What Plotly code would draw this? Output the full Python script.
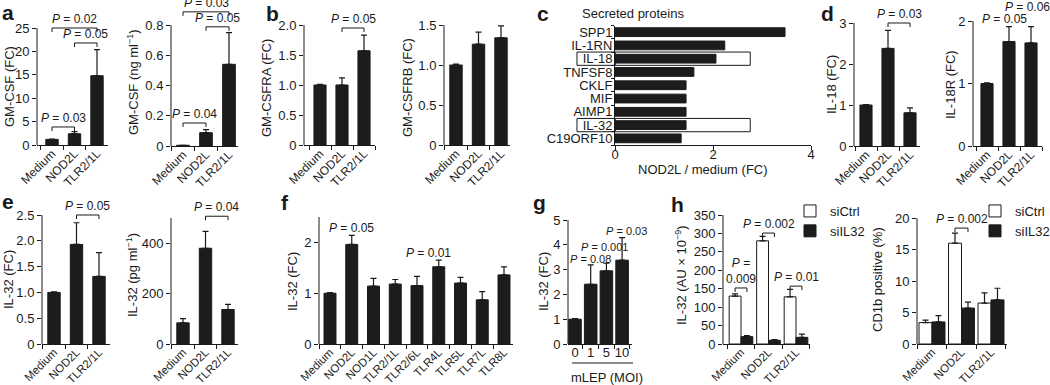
import plotly.graph_objects as go

W, H = 1050, 385
FONT = "Liberation Sans, Arial, Helvetica, sans-serif"
INK = "#1a1a1a"
BAR = "#1c1c1c"

# ---------------- data ----------------
cats3 = ["Medium", "NOD2L", "TLR2/1L"]

a1_vals = [1.2, 2.4, 14.8]
a1_err = [0.05, 0.45, 5.6]
a2_vals = [0.005, 0.088, 0.54]
a2_err = [0.0, 0.02, 0.21]

b1_vals = [1.0, 1.0, 1.57]
b1_err = [0.01, 0.12, 0.26]
b2_vals = [1.0, 1.26, 1.34]
b2_err = [0.01, 0.15, 0.15]

c_cats = ["SPP1", "IL-1RN", "IL-18", "TNFSF8", "CKLF", "MIF", "AIMP1", "IL-32", "C19ORF10"]
c_vals = [3.47, 2.24, 2.06, 1.61, 1.45, 1.45, 1.45, 1.45, 1.35]
c_boxed = ["IL-18", "IL-32"]
c_box_value = 2.76

d1_vals = [1.0, 2.38, 0.81]
d1_err = [0.01, 0.44, 0.12]
d2_vals = [1.0, 1.67, 1.65]
d2_err = [0.01, 0.24, 0.26]

e1_vals = [1.0, 1.93, 1.31]
e1_err = [0.01, 0.42, 0.46]
e2_vals = [84, 380, 137]
e2_err = [17, 67, 20]

f_cats = ["Medium", "NOD2L", "NOD1L", "TLR2/1L", "TLR2/6L", "TLR4L", "TLR5L", "TLR7L", "TLR8L"]
f_vals = [1.0, 1.96, 1.14, 1.18, 1.15, 1.52, 1.20, 0.87, 1.36]
f_err = [0.01, 0.18, 0.15, 0.09, 0.18, 0.13, 0.11, 0.16, 0.16]

g_cats = ["0", "1", "5", "10"]
g_vals = [1.0, 2.41, 2.95, 3.38]
g_err = [0.02, 0.78, 0.31, 0.91]

h_series = ["siCtrl", "siIL32"]
h1_ctrl = [130, 280, 128]
h1_ctrl_err = [6, 12, 20]
h1_si = [20, 10, 18]
h1_si_err = [3, 2, 9]
h2_ctrl = [3.4, 16.0, 6.5]
h2_ctrl_err = [0.4, 1.6, 1.6]
h2_si = [3.5, 5.7, 7.0]
h2_si_err = [1.0, 0.95, 1.85]

# ---------------- helpers ----------------
layout = dict(
    width=W, height=H, autosize=False,
    margin=dict(l=0, r=0, t=0, b=0, autoexpand=False),
    paper_bgcolor="white", plot_bgcolor="rgba(0,0,0,0)",
    barmode="overlay",
    font=dict(family=FONT, size=12, color=INK),
    showlegend=True,
)
shapes, annots, traces = [], [], []


def names(n):
    s = "" if n == 1 else str(n)
    return "xaxis" + s, "yaxis" + s, "x" + s, "y" + s


def bar_panel(n, cats, geo, T, R, ytick, yticktext=None, xangle=-45, xfont=12):
    x0, x1, c0, s, y0, yt = geo
    xa, ya, xr, yr = names(n)
    scale = (y0 - yt) / T
    top = y0 - R * scale
    layout[xa] = dict(
        domain=[x0 / W, x1 / W], anchor=yr, type="category",
        categoryorder="array", categoryarray=cats,
        tickmode="array", tickvals=cats, ticktext=cats,
        range=[(x0 - c0) / s, (x1 - c0) / s],
        tickson="boundaries", ticks="outside", ticklen=4, tickcolor=INK,
        showline=True, linecolor=INK, linewidth=1,
        tickangle=xangle, tickfont=dict(size=xfont),
        ticklabelstandoff=-4,
        showgrid=False, zeroline=False,
    )
    layout[ya] = dict(
        domain=[1 - y0 / H, 1 - top / H], anchor=xr, range=[0, R],
        tickmode="array", tickvals=ytick, ticktext=yticktext,
        ticks="outside", ticklen=4, tickcolor=INK,
        showline=False, showgrid=False, zeroline=False,
        tickfont=dict(size=13),
    )
    shapes.append(dict(type="line", xref=xr + " domain", yref=yr, x0=0, x1=0,
                       y0=0, y1=T, line=dict(color=INK, width=1)))
    return xr, yr, scale


def add_bars(xr, yr, cats, vals, err, width, offset=None, color=BAR,
             name=None, legend=None, showlegend=False):
    kw = {}
    if legend is not None:
        kw["legend"] = legend
    traces.append(go.Bar(
        x=cats, y=vals, xaxis=xr, yaxis=yr, width=width,
        offset=(-width / 2 if offset is None else offset),
        marker=dict(color=color, line=dict(color=INK, width=1)),
        error_y=dict(type="data", symmetric=False, array=err,
                     arrayminus=[0] * len(err), color=INK, thickness=1.2, width=3),
        name=name, showlegend=showlegend, hoverinfo="skip", **kw))


def bracket(xr, yr, i0, i1, y, scale, text):
    d = 4 / scale
    shapes.append(dict(type="path", xref=xr, yref=yr,
                       path=f"M {i0},{y - d} L {i0},{y} L {i1},{y} L {i1},{y - d}",
                       line=dict(color=INK, width=1)))
    annots.append(dict(xref=xr, yref=yr, x=(i0 + i1) / 2, y=y, text=text,
                       showarrow=False, yanchor="bottom", yshift=0,
                       font=dict(size=12)))


def ptext(xr, yr, x, y, text, size=12):
    annots.append(dict(xref=xr, yref=yr, x=x, y=y, text=text, showarrow=False,
                       yanchor="middle", font=dict(size=size)))


def ytitle(px, py, text):
    annots.append(dict(xref="paper", yref="paper", x=px / W, y=1 - py / H,
                       text=text, textangle=-90, showarrow=False,
                       xanchor="center", yanchor="middle", font=dict(size=13)))


def label(px, py, text, size=13, bold=False, xanchor="center"):
    annots.append(dict(xref="paper", yref="paper", x=px / W, y=1 - py / H,
                       text=("<b>%s</b>" % text) if bold else text, showarrow=False,
                       xanchor=xanchor, yanchor="middle", font=dict(size=size)))


P = "<i>P</i> = "
LOW = 11.5  # tick-label size for the bottom row

# ---------------- panel a ----------------
xr, yr, sc = bar_panel(1, cats3, (37, 108, 52, 22.5, 145, 28), 25, 25.6, [0, 5, 10, 15, 20, 25])
add_bars(xr, yr, cats3, a1_vals, a1_err, 0.55)
bracket(xr, yr, 0, 2, 25.0, sc, P + "0.02")
bracket(xr, yr, 1, 2, 21.8, sc, P + "0.05")
bracket(xr, yr, 0, 1, 3.85, sc, P + "0.03")
ytitle(10, 87, "GM-CSF (FC)")

xr, yr, sc = bar_panel(2, cats3, (171, 238, 183, 23, 146, 25), 0.8, 0.9,
                       [0, 0.2, 0.4, 0.6, 0.8], ["0", "0.2", "0.4", "0.6", "0.8"])
add_bars(xr, yr, cats3, a2_vals, a2_err, 0.55)
bracket(xr, yr, 0, 2, 0.887, sc, P + "0.03")
bracket(xr, yr, 1, 2, 0.788, sc, P + "0.05")
bracket(xr, yr, 0, 1, 0.152, sc, P + "0.04")
ytitle(133, 82, "GM-CSF (ng ml<sup>−1</sup>)")

# ---------------- panel b ----------------
xr, yr, sc = bar_panel(3, cats3, (304, 375, 320, 22, 145, 25), 2.0, 2.05,
                       [0, 0.5, 1, 1.5, 2], ["0", "0.5", "1.0", "1.5", "2.0"])
add_bars(xr, yr, cats3, b1_vals, b1_err, 0.55)
bracket(xr, yr, 1, 2, 1.95, sc, P + "0.05")
ytitle(267, 88, "GM-CSFRA (FC)")

xr, yr, sc = bar_panel(4, cats3, (444, 510, 456, 22.5, 145, 25), 1.5, 1.5,
                       [0, 0.5, 1, 1.5], ["0", "0.5", "1.0", "1.5"])
add_bars(xr, yr, cats3, b2_vals, b2_err, 0.55)
ytitle(408, 88, "GM-CSFRB (FC)")

# ---------------- panel c ----------------
layout["xaxis5"] = dict(domain=[615 / W, 811 / W], anchor="y5", range=[0, 4],
                        tickvals=[0, 2, 4], ticks="outside", ticklen=4, tickcolor=INK,
                        showline=True, linecolor=INK, linewidth=1, showgrid=False,
                        zeroline=False, tickfont=dict(size=13), ticklabelstandoff=-7)
layout["yaxis5"] = dict(domain=[1 - 145 / H, 1 - 25.5 / H], anchor="x5", type="category",
                        categoryorder="array", categoryarray=c_cats,
                        tickmode="array", tickvals=c_cats, ticktext=c_cats,
                        range=[len(c_cats) - 0.5, -0.5], tickson="boundaries",
                        ticks="outside", ticklen=3, tickcolor=INK, showline=True,
                        linecolor=INK, linewidth=1, showgrid=False, zeroline=False,
                        ticklabelstandoff=-1, tickfont=dict(size=13))
box_vals = [c_box_value if c in c_boxed else None for c in c_cats]
traces.append(go.Bar(y=c_cats, x=box_vals, orientation="h", xaxis="x5", yaxis="y5",
                     width=1.0, offset=-0.5, marker=dict(color="white", line=dict(color=INK, width=1)),
                     showlegend=False, hoverinfo="skip"))
traces.append(go.Bar(y=c_cats, x=c_vals, orientation="h", xaxis="x5", yaxis="y5",
                     width=0.66, offset=-0.33, marker=dict(color=BAR, line=dict(color=INK, width=1)),
                     showlegend=False, hoverinfo="skip"))
for c in c_boxed:
    i = c_cats.index(c)
    shapes.append(dict(type="rect", xref="x5 domain", yref="y5", x0=-0.194, x1=0,
                       y0=i - 0.5, y1=i + 0.5, line=dict(color=INK, width=1)))
label(580, 13, "Secreted proteins", size=13, xanchor="left")
label(703, 169, "NOD2L / medium (FC)", size=13)

# ---------------- panel d ----------------
xr, yr, sc = bar_panel(6, cats3, (854, 920, 866, 22, 146, 23), 3, 3.05, [0, 1, 2, 3])
add_bars(xr, yr, cats3, d1_vals, d1_err, 0.55)
bracket(xr, yr, 1, 2, 3.0, sc, P + "0.03")
ytitle(832, 85, "IL-18 (FC)")

xr, yr, sc = bar_panel(7, cats3, (973, 1042, 987, 22, 146, 21), 2, 2.3, [0, 1, 2])
add_bars(xr, yr, cats3, d2_vals, d2_err, 0.55)
ptext(xr, yr, 0.8, 2.03, P + "0.05")
ptext(xr, yr, 1.82, 2.22, P + "0.06")
ytitle(951, 85, "IL-18R (FC)")

# ---------------- panel e ----------------
xr, yr, sc = bar_panel(8, cats3, (42, 110, 54, 22.5, 344, 215), 2.5, 2.56,
                       [0, 0.5, 1, 1.5, 2, 2.5], ["0", "0.5", "1.0", "1.5", "2.0", "2.5"], xfont=LOW)
add_bars(xr, yr, cats3, e1_vals, e1_err, 0.55)
bracket(xr, yr, 1, 2, 2.5, sc, P + "0.05")
ytitle(8, 280, "IL-32 (FC)")

xr, yr, sc = bar_panel(9, cats3, (171, 238, 183, 22.5, 344, 218), 500, 515, [0, 200, 400], xfont=LOW)
add_bars(xr, yr, cats3, e2_vals, e2_err, 0.55)
bracket(xr, yr, 1, 2, 507, sc, P + "0.04")
ytitle(132, 275, "IL-32 (pg ml<sup>−1</sup>)")

# ---------------- panel f ----------------
xr, yr, sc = bar_panel(10, f_cats, (319, 513, 330, 21.75, 344, 217), 2.5, 2.5, [0, 1, 2], xfont=LOW)
add_bars(xr, yr, f_cats, f_vals, f_err, 0.55)
ptext(xr, yr, 1, 2.28, P + "0.05")
ptext(xr, yr, 4.55, 1.79, P + "0.01")
ytitle(292, 282, "IL-32 (FC)")

# ---------------- panel g ----------------
xr, yr, sc = bar_panel(11, g_cats, (568, 632, 575, 15.7, 344, 220), 5, 5,
                       [0, 1, 2, 3, 4, 5], xangle=0, xfont=13)
add_bars(xr, yr, g_cats, g_vals, g_err, 0.8)
ptext(xr, yr, 0.98, 3.42, P + "0.08", size=11)
ptext(xr, yr, 1.9, 3.92, P + "0.001", size=11)
ptext(xr, yr, 3.3, 4.56, P + "0.03", size=11)
shapes.append(dict(type="line", xref="paper", yref="paper", x0=572 / W, x1=633 / W,
                   y0=1 - 363 / H, y1=1 - 363 / H, line=dict(color=INK, width=1)))
label(607, 377, "mLEP (MOI)", size=13)
ytitle(543, 282, "IL-32 (FC)")

# ---------------- panel h ----------------
hw = 0.43
xr, yr, sc = bar_panel(12, cats3, (723, 810, 741, 27.5, 344, 215), 350, 350,
                       [0, 50, 100, 150, 200, 250, 300, 350], xfont=LOW)
add_bars(xr, yr, cats3, h1_ctrl, h1_ctrl_err, hw, offset=-hw, color="white",
         name=h_series[0], legend="legend", showlegend=True)
add_bars(xr, yr, cats3, h1_si, h1_si_err, hw, offset=0, color=BAR,
         name=h_series[1], legend="legend", showlegend=True)
bracket(xr, yr, -hw / 2, hw / 2, 152, sc, "<i>P</i> =<br>0.009")
bracket(xr, yr, 1 - hw / 2, 1 + hw / 2, 301, sc, P + "0.002")
bracket(xr, yr, 2 - hw / 2, 2 + hw / 2, 157, sc, P + "0.01")
ytitle(681, 275, "IL-32 (AU × 10<sup>−9</sup>)")

hw2 = 0.44
xr, yr, sc = bar_panel(13, cats3, (917, 1007, 932, 29.5, 344, 218), 20, 20, [0, 5, 10, 15, 20], xfont=LOW)
add_bars(xr, yr, cats3, h2_ctrl, h2_ctrl_err, hw2, offset=-hw2, color="white",
         name=h_series[0], legend="legend2", showlegend=True)
add_bars(xr, yr, cats3, h2_si, h2_si_err, hw2, offset=0, color=BAR,
         name=h_series[1], legend="legend2", showlegend=True)
bracket(xr, yr, 1 - hw2 / 2, 1 + hw2 / 2, 18.4, sc, P + "0.002")
ytitle(877, 280, "CD1b positive (%)")

leg = dict(xanchor="left", yanchor="top", bgcolor="rgba(0,0,0,0)", borderwidth=0,
           font=dict(size=13), itemwidth=30, tracegroupgap=0)
layout["legend"] = dict(leg, x=790 / W, y=1 - 196 / H)
layout["legend2"] = dict(leg, x=975 / W, y=1 - 196 / H)

# ---------------- panel letters ----------------
for ch, px, py in [("a", 8, 12), ("b", 272, 13), ("c", 543, 13), ("d", 827, 13),
                   ("e", 8, 202), ("f", 285, 203), ("g", 539, 203), ("h", 677, 205)]:
    label(px, py, ch, size=21, bold=True)

layout["shapes"] = shapes
layout["annotations"] = annots
fig = go.Figure(data=traces, layout=layout)
fig.write_html("out.html", config={"displayModeBar": False},
               post_script="document.body.style.margin='0px';document.body.style.overflow='hidden';")
